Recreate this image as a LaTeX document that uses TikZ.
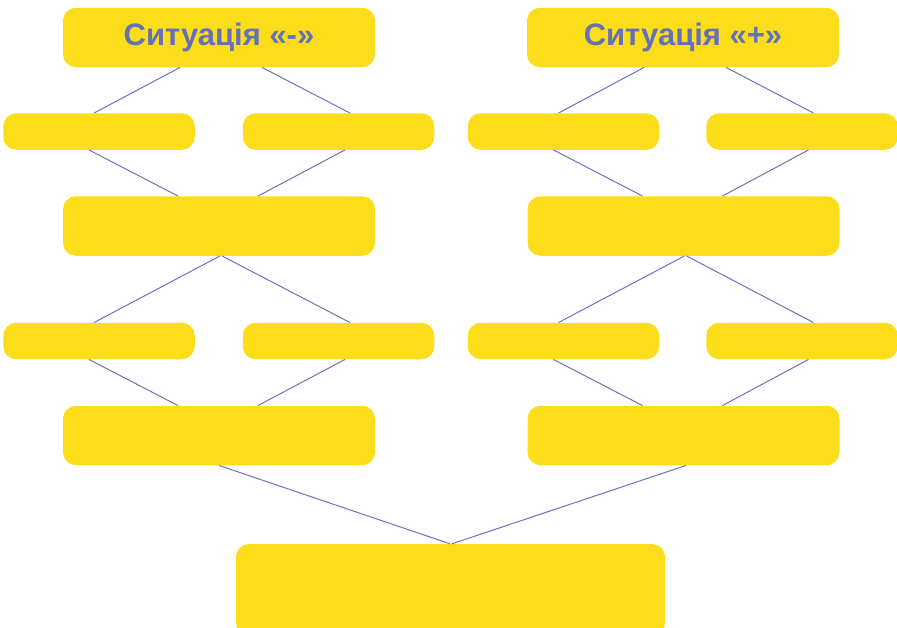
\documentclass[tikz,border=0pt]{standalone}
\usepackage{fontspec}
\setmainfont{Liberation Sans}
\usetikzlibrary{calc}
\definecolor{boxyellow}{HTML}{FBDD1A}
\definecolor{linkblue}{HTML}{6B73C0}
\definecolor{titleblue}{HTML}{6470B8}
\begin{document}
\begin{tikzpicture}[x=1pt,y=-1pt,
  box/.style={fill=boxyellow, draw=none, rounded corners=13pt, inner sep=0pt, anchor=center},
  bigbox/.style={box, minimum width=312pt, minimum height=59.5pt},
  smallbox/.style={box, minimum width=191.5pt, minimum height=36.5pt},
  title/.style={text=titleblue, font=\fontsize{31}{36}\selectfont\bfseries},
  link/.style={draw=linkblue, line width=1pt}]
\useasboundingbox (0,0) rectangle (897,627);
\begin{scope}
\clip (0,0) rectangle (897,627);
% left column
\node[bigbox, title] (t1) at (219,37.5) {\raisebox{-1.5pt}{Ситуація «-»}};
\node[smallbox] (a1) at (99,131.5) {};
\node[smallbox] (a2) at (338.5,131.5) {};
\node[bigbox] (m1) at (219,226) {};
\node[smallbox] (b1) at (99,341) {};
\node[smallbox] (b2) at (338.5,341) {};
\node[bigbox] (c1) at (219,435.5) {};
% right column
\node[bigbox, title] (t2) at (683,37.5) {\raisebox{-1.5pt}{Ситуація «+»}};
\node[smallbox] (a3) at (563.5,131.5) {};
\node[smallbox] (a4) at (802,131.5) {};
\node[bigbox] (m2) at (683.5,226) {};
\node[smallbox] (b3) at (563.5,341) {};
\node[smallbox] (b4) at (802,341) {};
\node[bigbox] (c2) at (683.5,435.5) {};
% bottom
\node[box, minimum width=429pt, minimum height=92pt] (d) at (450.5,590) {};
\end{scope}
% connectors
\foreach \T/\A/\B/\M/\P/\Q/\C in {t1/a1/a2/m1/b1/b2/c1, t2/a3/a4/m2/b3/b4/c2}{
  \draw[link] ($(\T.south)+(-39,0)$) -- ($(\A.north)+(-5,0)$);
  \draw[link] ($(\T.south)+(43,0)$) -- ($(\B.north)+(11.5,0)$);
  \draw[link] ($(\A.south)+(-10,0)$) -- ($(\M.north)+(-41,0)$);
  \draw[link] ($(\B.south)+(6.5,0)$) -- ($(\M.north)+(39,0)$);
  \draw[link] ($(\M.south)+(1,0)$) -- ($(\P.north)+(-5,0)$);
  \draw[link] ($(\M.south)+(3,0)$) -- ($(\Q.north)+(11.5,0)$);
  \draw[link] ($(\P.south)+(-10,0)$) -- ($(\C.north)+(-41,0)$);
  \draw[link] ($(\Q.south)+(6.5,0)$) -- ($(\C.north)+(39,0)$);
}
\draw[link] (c1.south) -- ($(d.north)+(-0.5,0)$);
\draw[link] ($(c2.south)+(2.5,0)$) -- ($(d.north)+(1.5,0)$);
\end{tikzpicture}
\end{document}
